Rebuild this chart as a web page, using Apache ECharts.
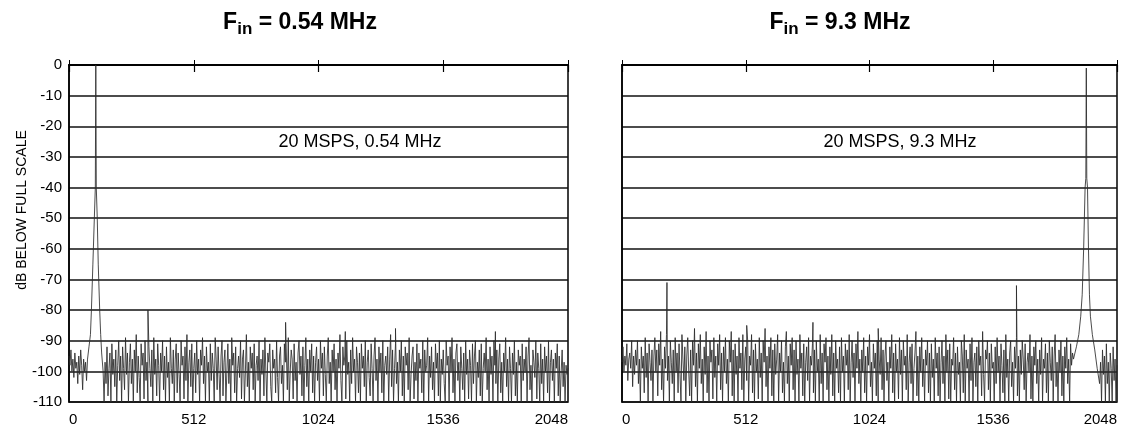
<!DOCTYPE html>
<html>
<head>
<meta charset="utf-8">
<script src="https://cdn.jsdelivr.net/npm/echarts@6/dist/echarts.min.js"></script>
<style>
html,body{margin:0;padding:0;background:#fff;}
#chart{width:1125px;height:427px;}
</style>
</head>
<body>
<div id="chart"></div>
<script>
// ---- data ----
const binStep = 4;            // noise samples every 4 FFT bins (0..2048)
const xTickLabels = ['0', '512', '1024', '1536', '2048'];
const yTickValues = [0, -10, -20, -30, -40, -50, -60, -70, -80, -90, -100, -110];

const titleLeft = ['F', 'in', ' = 0.54 MHz'];
const titleRight = ['F', 'in', ' = 9.3 MHz'];
const noteLeft = '20 MSPS, 0.54 MHz';
const noteRight = '20 MSPS, 9.3 MHz';
const yAxisName = 'dB BELOW FULL SCALE';

// noise floor, left panel (Fin = 0.54 MHz); entries under the fundamental are not drawn
const noiseLeft = [
  -95,-98,-93,-100,-96,-102,-94,-99,-97,-104,-95,-101,-93,-98,-106,-96,
  -100,-97,-103,-100,-100,-100,-100,-100,-100,-100,-100,-100,-100,-100,-100,-100,
  -100,-100,-100,-100,-110,-97,-104,-92,-108,-99,-94,-110,-91,-101,-96,-105,
  -93,-110,-98,-90,-103,-95,-110,-92,-99,-106,-89,-101,-94,-110,-97,-91,
  -104,-96,-110,-93,-100,-88,-107,-95,-102,-110,-91,-98,-94,-109,-90,-103,
  -97,-110,-92,-99,-105,-93,-110,-89,-101,-96,-108,-91,-98,-110,-94,-100,
  -90,-106,-95,-110,-92,-102,-97,-110,-89,-99,-104,-93,-110,-96,-91,-107,
  -94,-101,-110,-90,-98,-95,-109,-92,-103,-88,-110,-97,-93,-105,-91,-110,
  -99,-94,-107,-90,-101,-96,-110,-93,-98,-89,-104,-95,-110,-92,-100,-97,
  -110,-91,-103,-94,-99,-110,-89,-96,-106,-92,-101,-110,-95,-90,-108,-97,
  -93,-110,-100,-91,-104,-96,-110,-89,-98,-94,-107,-92,-110,-99,-95,-102,
  -90,-109,-96,-93,-110,-100,-88,-105,-97,-110,-92,-99,-94,-106,-91,-110,
  -98,-95,-103,-90,-110,-96,-101,-93,-108,-89,-100,-110,-94,-97,-91,-105,
  -110,-93,-99,-96,-107,-90,-102,-110,-95,-92,-104,-98,-110,-91,-97,-94,
  -106,-89,-110,-100,-93,-96,-109,-91,-103,-97,-110,-94,-90,-101,-95,-108,
  -92,-110,-98,-89,-105,-96,-110,-93,-100,-91,-107,-95,-110,-97,-92,-103,
  -96,-110,-90,-99,-94,-108,-92,-101,-110,-95,-89,-104,-97,-110,-93,-100,
  -91,-106,-96,-110,-94,-99,-88,-103,-110,-92,-98,-95,-109,-90,-101,-97,
  -110,-93,-104,-89,-100,-96,-110,-92,-97,-107,-94,-110,-91,-99,-95,-105,
  -90,-110,-97,-93,-102,-108,-91,-99,-110,-95,-89,-103,-96,-110,-92,-100,
  -94,-107,-90,-110,-98,-95,-101,-92,-110,-96,-88,-105,-93,-110,-99,-91,
  -104,-97,-110,-93,-100,-90,-108,-95,-110,-92,-98,-94,-106,-89,-110,-101,
  -95,-92,-109,-97,-103,-91,-110,-94,-99,-96,-107,-90,-110,-93,-100,-98,
  -89,-110,-95,-102,-92,-106,-97,-110,-91,-99,-94,-108,-90,-110,-96,-101,
  -93,-104,-110,-90,-98,-95,-110,-92,-100,-89,-107,-96,-110,-94,-91,-103,
  -97,-110,-92,-99,-106,-94,-110,-90,-101,-96,-109,-93,-98,-110,-91,-104,
  -95,-90,-110,-97,-102,-93,-108,-91,-110,-99,-94,-100,-89,-106,-96,-110,
  -92,-101,-95,-110,-90,-98,-104,-93,-110,-96,-91,-107,-97,-110,-94,-100,
  -89,-105,-96,-110,-92,-99,-110,-94,-101,-90,-108,-97,-110,-93,-98,-95,
  -110,-91,-103,-96,-100,-92,-110,-95,-89,-106,-98,-110,-93,-97,-102,-90,
  -109,-94,-99,-110,-91,-104,-96,-110,-92,-100,-95,-107,-90,-110,-97,-93,
  -103,-96,-110,-94,-99,-91,-108,-95,-110,-100,-93,-105,-97,-110,-98,-101,
  -99
];
// fundamental, left panel: [bin, dB]
const peakLeft = [
  [76,-96],[82,-92],[88,-88],[92,-80],[98,-65],[104,-50],[108,-40],[110,0],
  [112,-40],[116,-50],[120,-65],[126,-80],[130,-88],[134,-94],[140,-100]
];
// spurs, left panel: [bin, dB]
const spursLeft = [[324,-80],[889,-84],[1134,-87],[1340,-86],[1750,-87]];

// noise floor, right panel (Fin = 9.3 MHz); entries under the fundamental are not drawn
const noiseRight = [
  -97,-92,-100,-95,-98,-91,-103,-96,-94,-99,-90,-105,-95,-101,-93,-98,
  -90,-104,-96,-110,-92,-99,-95,-107,-89,-102,-94,-110,-91,-97,-103,-93,
  -110,-95,-89,-100,-93,-108,-91,-98,-87,-106,-96,-110,-92,-99,-88,-103,
  -95,-110,-90,-97,-104,-93,-110,-89,-100,-94,-107,-91,-101,-110,-88,-96,
  -103,-92,-110,-95,-89,-100,-108,-93,-110,-90,-98,-86,-105,-94,-110,-91,
  -99,-88,-104,-96,-110,-92,-101,-87,-107,-95,-110,-90,-97,-93,-109,-89,
  -102,-95,-110,-91,-98,-88,-106,-94,-110,-92,-100,-89,-104,-96,-110,-90,
  -97,-87,-108,-93,-110,-91,-101,-95,-110,-89,-99,-94,-106,-88,-110,-96,
  -92,-103,-90,-110,-95,-98,-88,-107,-93,-110,-91,-100,-96,-109,-89,-102,
  -94,-110,-90,-97,-86,-105,-95,-110,-92,-99,-89,-108,-93,-110,-91,-101,
  -96,-88,-110,-94,-100,-90,-107,-97,-110,-92,-87,-104,-95,-110,-91,-98,
  -89,-106,-93,-110,-90,-101,-96,-110,-88,-99,-94,-108,-91,-110,-97,-92,
  -103,-89,-110,-95,-98,-91,-107,-93,-110,-90,-100,-96,-110,-88,-104,-94,
  -110,-91,-97,-89,-106,-95,-110,-92,-101,-88,-108,-94,-110,-90,-99,-96,
  -107,-92,-110,-89,-100,-95,-110,-91,-98,-93,-106,-88,-110,-97,-90,-102,
  -94,-110,-91,-99,-87,-104,-96,-110,-93,-100,-89,-107,-95,-110,-92,-98,
  -88,-105,-97,-110,-91,-99,-94,-108,-90,-110,-96,-101,-89,-106,-93,-110,
  -95,-90,-103,-97,-110,-92,-99,-88,-107,-94,-110,-91,-100,-96,-109,-89,
  -101,-93,-110,-90,-98,-95,-106,-88,-110,-97,-92,-104,-91,-110,-99,-94,
  -87,-108,-95,-110,-92,-100,-89,-105,-96,-110,-93,-98,-90,-107,-94,-110,
  -91,-102,-96,-110,-89,-99,-94,-108,-92,-110,-97,-90,-104,-95,-110,-88,
  -100,-93,-109,-91,-110,-96,-98,-89,-106,-94,-110,-92,-101,-97,-110,-90,
  -95,-107,-88,-110,-93,-99,-96,-110,-91,-103,-89,-110,-97,-94,-105,-92,
  -110,-90,-98,-95,-108,-87,-101,-110,-93,-96,-90,-106,-94,-110,-91,-99,
  -97,-110,-92,-104,-89,-100,-95,-110,-91,-98,-107,-93,-110,-88,-102,-96,
  -110,-94,-90,-105,-97,-110,-92,-99,-89,-108,-95,-110,-93,-101,-90,-96,
  -106,-91,-110,-97,-94,-100,-88,-109,-95,-110,-92,-98,-90,-104,-96,-110,
  -93,-101,-89,-110,-96,-99,-91,-107,-94,-110,-90,-97,-103,-92,-110,-95,
  -88,-105,-97,-110,-93,-100,-90,-108,-95,-110,-92,-99,-89,-104,-96,-110,
  -91,-98,-94,-100,-100,-100,-100,-100,-100,-100,-100,-100,-100,-100,-100,-100,
  -100,-100,-100,-100,-100,-100,-100,-100,-100,-100,-100,-100,-100,-100,-100,-97,
  -110,-93,-101,-95,-110,-91,-104,-97,-110,-94,-99,-110,-92,-103,-96,-110,
  -98
];
// fundamental, right panel: [bin, dB]
const peakRight = [
  [1868,-96],[1880,-92],[1890,-88],[1898,-82],[1904,-75],[1910,-60],[1916,-40],
  [1919,-37],[1921,-1],[1923,-37],[1926,-40],[1930,-60],[1934,-75],[1938,-82],
  [1946,-88],[1956,-93],[1966,-99],[1976,-104]
];
// spurs, right panel: [bin, dB]
const spursRight = [[186,-71],[516,-85],[790,-84],[1060,-86],[1632,-72]];

// ---- build series data ----
function build(noise, peak, spurs) {
  const lo = peak[0][0], hi = peak[peak.length - 1][0];
  const pts = [];
  noise.forEach((v, i) => {
    const b = i * binStep;
    if (b < lo || b > hi) pts.push([b, v]);
  });
  peak.forEach(p => pts.push(p.slice()));
  spurs.forEach(p => pts.push(p.slice()));
  pts.sort((a, b) => a[0] - b[0]);
  return pts;
}

const FONT = 'Liberation Sans, Arial, sans-serif';
const chart = echarts.init(document.getElementById('chart'), null, {renderer: 'canvas'});

function bottomAxis(gi) {
  return {
    type: 'value', gridIndex: gi, position: 'bottom',
    min: 0, max: 2048, interval: 512,
    axisLine: {show: true, lineStyle: {color: '#000', width: 1.5}},
    axisTick: {show: true, inside: true, length: 5, lineStyle: {color: '#000'}},
    splitLine: {show: false},
    axisLabel: {
      show: true, margin: 10, color: '#000', fontFamily: FONT, fontSize: 15,
      alignMinLabel: 'left', alignMaxLabel: 'right',
      formatter: v => xTickLabels[Math.round(v / 512)] || ''
    }
  };
}
function topAxis(gi) {
  return {
    type: 'value', gridIndex: gi, position: 'top',
    min: 0, max: 2048, interval: 512,
    axisLine: {show: true, lineStyle: {color: '#000', width: 1.5}},
    axisTick: {show: true, inside: true, length: 7, lineStyle: {color: '#000', width: 1.2}},
    splitLine: {show: false},
    axisLabel: {show: false}
  };
}
function yAxis(gi, labels) {
  return {
    type: 'value', gridIndex: gi,
    min: yTickValues[yTickValues.length - 1], max: yTickValues[0], interval: 10,
    axisLine: {show: true, lineStyle: {color: '#000', width: 1.5}},
    axisTick: {show: false},
    splitLine: {show: true, lineStyle: {color: '#111', width: 1.6}},
    axisLabel: {show: labels, margin: 7, color: '#000', fontFamily: FONT, fontSize: 15}
  };
}

const rich = {
  a: {fontFamily: FONT, fontSize: 23, fontWeight: 'bold', fill: '#000', lineHeight: 23, verticalAlign: 'top'},
  s: {fontFamily: FONT, fontSize: 17, fontWeight: 'bold', fill: '#000', lineHeight: 17, padding: [10, 0, 0, 0], verticalAlign: 'top'}
};
function titleText(parts) {
  return '{a|' + parts[0] + '}{s|' + parts[1] + '}{a|' + parts[2] + '}';
}

const option = {
  animation: false,
  backgroundColor: '#fff',
  grid: [
    {left: 69, top: 65, width: 499, height: 337, show: true, borderColor: '#000', borderWidth: 1.5, backgroundColor: 'transparent'},
    {left: 622, top: 65, width: 495, height: 337, show: true, borderColor: '#000', borderWidth: 1.5, backgroundColor: 'transparent'}
  ],
  xAxis: [bottomAxis(0), bottomAxis(1), topAxis(0), topAxis(1)],
  yAxis: [yAxis(0, true), yAxis(1, false)],
  series: [
    {type: 'line', xAxisIndex: 0, yAxisIndex: 0, data: build(noiseLeft, peakLeft, spursLeft),
     symbol: 'none', clip: true, lineStyle: {color: '#2a2a2a', width: 0.85}},
    {type: 'line', xAxisIndex: 1, yAxisIndex: 1, data: build(noiseRight, peakRight, spursRight),
     symbol: 'none', clip: true, lineStyle: {color: '#2a2a2a', width: 0.85}}
  ],
  graphic: [
    {type: 'text', x: 300, y: 11, style: {text: titleText(titleLeft), rich: rich, align: 'center', verticalAlign: 'top'}},
    {type: 'text', x: 840, y: 11, style: {text: titleText(titleRight), rich: rich, align: 'center', verticalAlign: 'top'}},
    {type: 'text', x: 360, y: 142, style: {text: noteLeft, font: '18px ' + FONT, fill: '#000', align: 'center', verticalAlign: 'middle'}},
    {type: 'text', x: 900, y: 142, style: {text: noteRight, font: '18px ' + FONT, fill: '#000', align: 'center', verticalAlign: 'middle'}},
    {type: 'text', x: 22, y: 210, rotation: Math.PI / 2, style: {text: yAxisName, font: '14px ' + FONT, fill: '#000', align: 'center', verticalAlign: 'middle'}}
  ]
};
chart.setOption(option);
</script>
</body>
</html>
